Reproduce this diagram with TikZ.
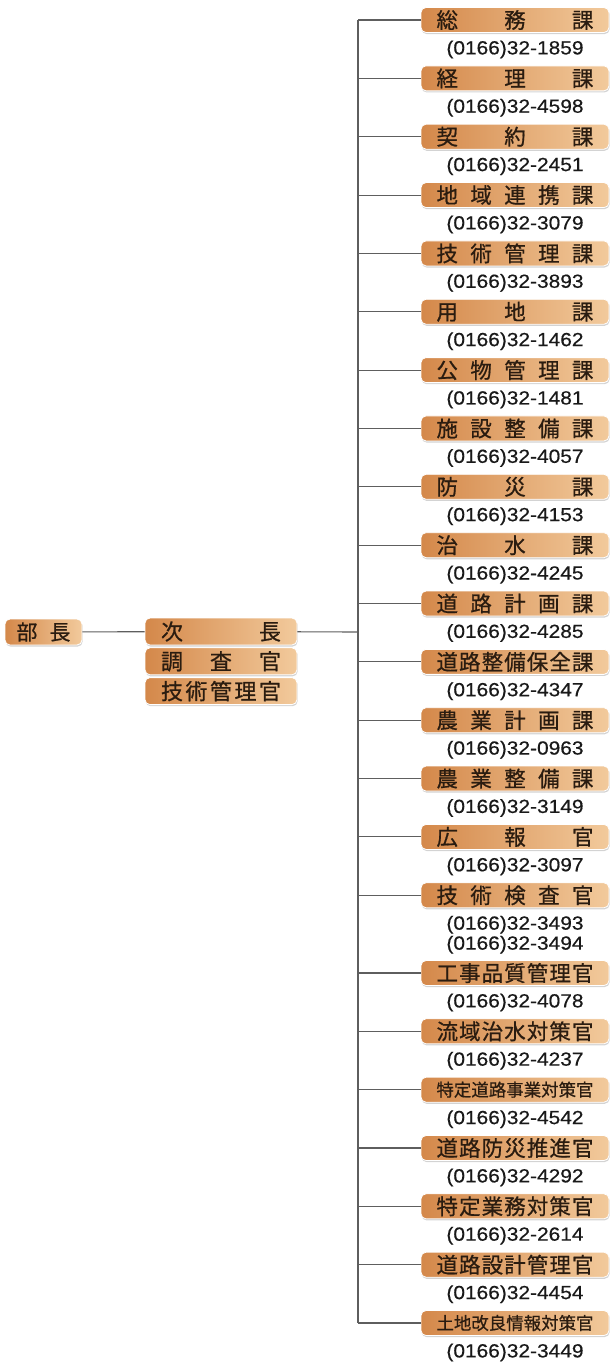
\documentclass[tikz,border=0pt]{standalone}
\usepackage{fontspec}
\setmainfont[FakeBold=0.7]{Noto Sans CJK JP}
\newfontfamily\telfont[FakeStretch=1.1, FakeBold=0.5]{Liberation Sans}
\usetikzlibrary{positioning,shadows}

\definecolor{boxL}{HTML}{D4884A}
\definecolor{boxR}{HTML}{F2CA9C}
\definecolor{ink}{HTML}{2A1C10}
\definecolor{lin}{HTML}{5E5E5E}

% spread the characters of a label over a fixed width
\def\jspA#1{#1\jspB}
\def\jspB#1{\ifx\relax#1\else\hfill#1\expandafter\jspB\fi}
\newcommand\spread[2]{\makebox[#1][s]{\expandafter\jspA#2\relax}}

\begin{document}
\begin{tikzpicture}[x=1pt, y=-1pt, every node/.style={text=ink},
    post/.style={rectangle, rounded corners=5pt, draw=white, line width=0.8pt,
      left color=boxL, right color=boxR, inner sep=0pt,
      drop shadow={opacity=0.35, shadow xshift=0.6pt, shadow yshift=-1.6pt}},
    tel/.style={font=\telfont\fontsize{19}{20}\selectfont, text=black!90, align=center, inner sep=0pt},
    link/.style={draw=lin, line width=1.1pt}]
  \useasboundingbox (0,0) rectangle (612,1365);

  \node[post, minimum width=77pt, minimum height=26pt, font=\fontsize{21}{21}\selectfont] (bucho) at (43.5,632) {\spread{54pt}{部長}};
  \node[post, minimum width=152pt, minimum height=27pt, font=\fontsize{22}{22}\selectfont] (jicho) at (221,631.5) {\spread{120pt}{次長}};
  \node[post, minimum width=152pt, minimum height=27pt, font=\fontsize{22}{22}\selectfont, below=2pt of jicho] (chosa) {\spread{120pt}{調査官}};
  \node[post, minimum width=152pt, minimum height=27pt, font=\fontsize{22}{22}\selectfont, below=2pt of chosa] (gikan) {\spread{120pt}{技術管理官}};
  \coordinate (hub) at (358,632);

  \foreach \y/\fs/\txt/\num [count=\i] in {
      20/21.5/総務課/{(0166)32-1859},
      78.35/21.5/経理課/{(0166)32-4598},
      136.7/21.5/契約課/{(0166)32-2451},
      195.05/21.5/地域連携課/{(0166)32-3079},
      253.4/21.5/技術管理課/{(0166)32-3893},
      311.75/21.5/用地課/{(0166)32-1462},
      370.1/21.5/公物管理課/{(0166)32-1481},
      428.45/21.5/施設整備課/{(0166)32-4057},
      486.8/21.5/防災課/{(0166)32-4153},
      545.15/21.5/治水課/{(0166)32-4245},
      603.5/21.5/道路計画課/{(0166)32-4285},
      661.85/21.5/道路整備保全課/{(0166)32-4347},
      720.2/21.5/農業計画課/{(0166)32-0963},
      778.55/21.5/農業整備課/{(0166)32-3149},
      836.9/21.5/広報官/{(0166)32-3097},
      895.25/21.5/技術検査官/{(0166)32-3493\\(0166)32-3494},
      973/21.5/工事品質管理官/{(0166)32-4078},
      1031.3/21.5/流域治水対策官/{(0166)32-4237},
      1089.7/17.4/特定道路事業対策官/{(0166)32-4542},
      1148/21.5/道路防災推進官/{(0166)32-4292},
      1206.3/21.5/特定業務対策官/{(0166)32-2614},
      1264.7/21.5/道路設計管理官/{(0166)32-4454},
      1323/17.4/土地改良情報対策官/{(0166)32-3449}}{
    \coordinate (tk\i) at (358,\y);
    \node[post, minimum width=188pt, minimum height=25pt, font=\fontsize{\fs}{\fs}\selectfont] (b\i) at (515,\y) {\spread{157pt}{\txt}};
    \node[tel, below=7.5pt of b\i] (p\i) {\num};
    \draw[link] (tk\i) -- (b\i);
  }

  \draw[link] (tk1) -- (tk23);
  \draw[link] (bucho) -- (jicho);
  \draw[link] (jicho) -- (hub);
\end{tikzpicture}
\end{document}
